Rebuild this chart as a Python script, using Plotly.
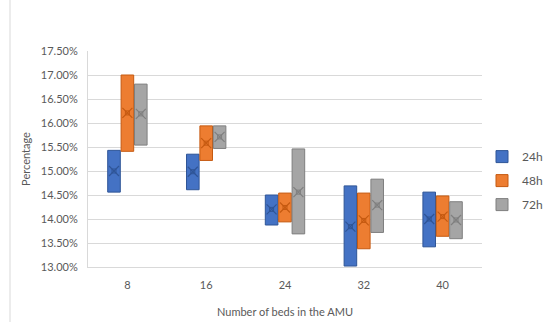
import plotly.graph_objects as go

categories = ["8", "16", "24", "32", "40"]
series_names = ["24h", "48h", "72h"]

low_24 = [0.1456, 0.1461, 0.13875, 0.1302, 0.1342]
high_24 = [0.1543, 0.1535, 0.1450, 0.1469, 0.1456]
mean_24 = [0.1500, 0.14985, 0.1420, 0.1384, 0.1400]

low_48 = [0.1541, 0.1522, 0.1394, 0.1338, 0.1364]
high_48 = [0.1700, 0.1594, 0.1454, 0.1454, 0.1448]
mean_48 = [0.1621, 0.1558, 0.1424, 0.1397, 0.1405]

low_72 = [0.1554, 0.1547, 0.1369, 0.1372, 0.1359]
high_72 = [0.1681, 0.1594, 0.1546, 0.1483, 0.1436]
mean_72 = [0.1619, 0.1571, 0.1456, 0.1429, 0.1398]

lows = [low_24, low_48, low_72]
highs = [high_24, high_48, high_72]
means = [mean_24, mean_48, mean_72]

fill_colors = ["#4472C4", "#ED7D31", "#A5A5A5"]
edge_colors = ["#2F5597", "#C55A11", "#7F7F7F"]

FONT = "Lato, 'Open Sans', sans-serif"
GREY = "#595959"

fig = go.Figure()
for i, name in enumerate(series_names):
    fig.add_trace(go.Bar(
        x=categories,
        y=[h - l for h, l in zip(highs[i], lows[i])],
        base=lows[i],
        name=name,
        offsetgroup=str(i),
        legendgroup=name,
        marker=dict(color=fill_colors[i], line=dict(color=edge_colors[i], width=1)),
        hoverinfo="skip",
    ))
for i, name in enumerate(series_names):
    fig.add_trace(go.Scatter(
        x=categories,
        y=means[i],
        mode="markers",
        offsetgroup=str(i),
        showlegend=False,
        legendgroup=name,
        marker=dict(symbol="x-thin-open", size=10,
                    line=dict(color=edge_colors[i], width=1.2),
                    color=edge_colors[i]),
    ))
    fig.add_trace(go.Scatter(
        x=categories,
        y=means[i],
        mode="markers",
        offsetgroup=str(i),
        showlegend=False,
        legendgroup=name,
        marker=dict(symbol="square-open", size=4,
                    line=dict(color=edge_colors[i], width=1),
                    color=edge_colors[i]),
    ))

fig.update_layout(
    width=546, height=322,
    margin=dict(l=88, r=64, t=51, b=55, autoexpand=False),
    paper_bgcolor="white", plot_bgcolor="white",
    barmode="group", bargap=0.49, bargroupgap=0.06,
    scattermode="group", scattergap=0.49,
    font=dict(family=FONT, size=11, color=GREY),
    showlegend=True,
    legend=dict(x=1.0, y=0.40, xanchor="left", yanchor="middle",
                traceorder="grouped", tracegroupgap=5,
                font=dict(size=12, color=GREY), bgcolor="rgba(0,0,0,0)"),
    xaxis=dict(
        type="category", automargin=False,
        showgrid=False, showline=True, linecolor="#D9D9D9", linewidth=1,
        ticks="", ticklabelstandoff=8,
        tickfont=dict(size=11, color=GREY),
        title=dict(text="Number of beds in the AMU", font=dict(size=11, color=GREY), standoff=18),
    ),
    yaxis=dict(
        range=[0.13, 0.175], dtick=0.005, tickformat=".2%", automargin=False,
        showgrid=True, gridcolor="#D9D9D9", gridwidth=1,
        showline=True, linecolor="#D9D9D9", linewidth=1,
        zeroline=False, ticks="", ticklabelstandoff=7,
        tickfont=dict(size=11, color=GREY),
        title=dict(text="Percentage", font=dict(size=11, color=GREY), standoff=8),
    ),
    shapes=[dict(type="line", xref="paper", yref="paper",
                 x0=(10 - 88) / 394, x1=(10 - 88) / 394,
                 y0=-60 / 216, y1=60 / 216 + 1.1,
                 line=dict(color="#D9D9D9", width=1))],
)

fig.write_html("out.html", config={"displayModeBar": False},
               post_script="document.body.style.margin='0px';document.body.style.overflow='hidden';")
